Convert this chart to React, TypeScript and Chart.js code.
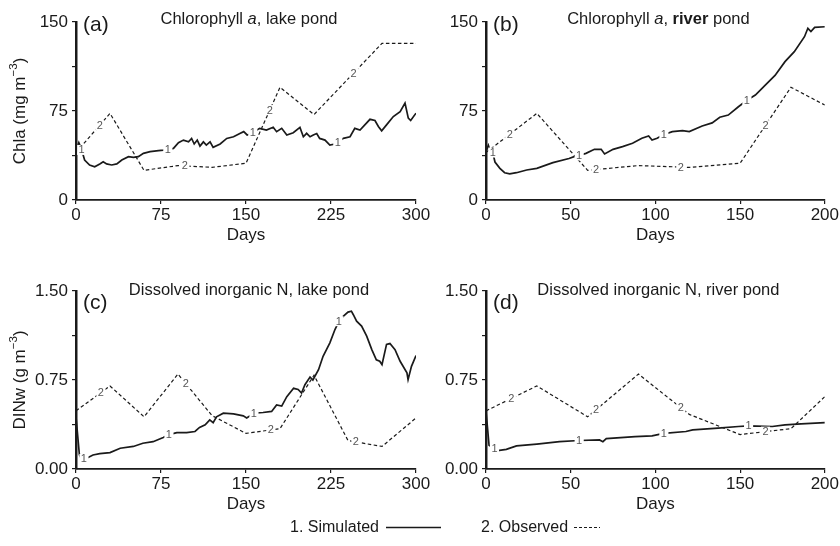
import React, { useEffect, useRef } from 'react';
import { Chart, registerables } from 'chart.js';

Chart.register(...registerables);

const FONT = "'Liberation Sans', Arial, Helvetica, sans-serif";
const INK = '#1a1a1a';

// ---------- data (day, value) ----------
const chlaLakeSim: [number, number][] = [
  [0, 40.7], [2.5, 48.3], [4.6, 43.5], [7.6, 33.7], [12, 29.5], [16.5, 28], [21, 30.4], [24, 32.3],
  [27, 30.4], [31.5, 29.5], [36, 30.4], [40.4, 33.7], [46.3, 36.5], [50.7, 36], [55, 36.5], [59.5, 39.3],
  [65.4, 40.7], [72.8, 41.6], [77.2, 42], [86, 43.5], [90.4, 48.3], [94.8, 50.5], [99.3, 49], [102, 51.9],
  [104.3, 47.2], [107, 50.5], [109.4, 45.4], [112.4, 49], [115, 46.3], [118.3, 49], [121, 44.4], [127.2, 47.2],
  [133, 51.9], [139, 53.3], [145, 56.2], [148, 57.6], [151, 54.8], [154, 55.6], [162, 60.4], [168, 59],
  [174, 61.3], [177, 57.6], [181.5, 60.4], [186, 54.8], [191.7, 56.7], [197.6, 61.2], [200.6, 53.3], [203.5, 56.2],
  [206.5, 53.3], [209.4, 54.8], [212.4, 56], [215, 51.9], [219.7, 50.5], [224, 46.3], [228.5, 47.2], [235.9, 51.9],
  [241.8, 53.3], [246, 60.4], [250.6, 59], [259.4, 68], [263.8, 67], [266.8, 62], [269.7, 58.3], [274, 63.3],
  [280, 70.3], [286, 74.5], [290.3, 81.6], [293.2, 69], [295.3, 67], [300, 73.2],
];
const chlaLakeObs: [number, number][] = [
  [0, 40], [30, 73], [60, 25], [90, 29], [120, 27.5], [150, 31], [180, 95], [210, 72], [240, 102], [270, 132], [300, 132],
];

const chlaRiverSim: [number, number][] = [
  [0, 40.7], [1.4, 46], [2.3, 42], [4, 40], [5.3, 32], [8.2, 26.7], [11, 23], [14, 22], [18, 23], [24, 25.3],
  [30, 26.7], [39.5, 31.5], [49, 35], [52, 36.5], [55, 37.5], [59, 39.3], [64, 42.7], [68, 42.7], [70, 38.8],
  [75, 42.7], [80.6, 45], [86.5, 47.8], [92, 52], [96, 54], [98, 50.5], [101, 52], [104.7, 55], [110, 57.6],
  [116, 58.4], [120, 57.6], [127.6, 62.4], [133.5, 65], [138, 69.7], [143, 71.6], [149, 78.6], [154, 84],
  [159, 88.5], [165, 97], [170.6, 105], [176.5, 116.6], [182, 125], [188, 137.6], [190, 144.7], [191.8, 142],
  [194, 145.5], [200, 146],
];
const chlaRiverObs: [number, number][] = [
  [0, 40], [30, 73], [60, 25], [90, 29], [120, 27.5], [150, 31], [180, 95], [200, 80],
];

const dinLakeSim: [number, number][] = [
  [0, 0.44], [1.6, 0.27], [3, 0.12], [5, 0.08], [9.4, 0.09], [15, 0.118], [21, 0.13], [30, 0.138], [39, 0.175],
  [50.6, 0.19], [59, 0.217], [68, 0.23], [77, 0.265], [82, 0.29], [89, 0.307], [97.6, 0.307], [105, 0.316],
  [109, 0.35], [114, 0.372], [118, 0.414], [121, 0.39], [124, 0.44], [130, 0.47], [139, 0.465], [147.6, 0.448],
  [150.6, 0.43], [157, 0.47], [165, 0.476], [172.6, 0.485], [177, 0.54], [181.5, 0.53], [186, 0.61], [192, 0.68],
  [196, 0.67], [199, 0.64], [202, 0.71], [206.5, 0.775], [209, 0.75], [214, 0.837], [218, 0.95], [224, 1.063],
  [228.5, 1.175], [232, 1.246], [236, 1.288], [240, 1.322], [243, 1.33], [244.7, 1.3], [247.6, 1.246], [252, 1.204],
  [256.5, 1.12], [261, 1.006], [265, 0.92], [268, 0.908], [270, 0.88], [274, 1.05], [277, 1.057], [281.5, 1.006],
  [286, 0.908], [292, 0.81], [293, 0.753], [296, 0.865], [300, 0.956],
];
const dinLakeObs: [number, number][] = [
  [0, 0.49], [30, 0.7], [60, 0.44], [90, 0.8], [120, 0.45], [150, 0.3], [180, 0.34], [210, 0.79], [240, 0.24], [270, 0.19], [300, 0.43],
];

const dinRiverSim: [number, number][] = [
  [0, 0.485], [1, 0.33], [1.8, 0.2], [4.7, 0.175], [7, 0.155], [12, 0.166], [18, 0.195], [30, 0.21], [43.4, 0.23],
  [55, 0.24], [67, 0.245], [69, 0.23], [71, 0.256], [88, 0.273], [98, 0.279], [105, 0.3], [118, 0.316], [122, 0.33],
  [137, 0.344], [149, 0.358], [155, 0.364], [169, 0.358], [176.5, 0.372], [186, 0.38], [200, 0.39],
];
const dinRiverObs: [number, number][] = [
  [0, 0.49], [30, 0.7], [60, 0.44], [90, 0.8], [120, 0.46], [150, 0.29], [180, 0.34], [200, 0.61],
];

// curve label positions (days)
const chlaLakeSimMarks = [5, 81, 156, 231];
const chlaLakeObsMarks = [21, 96, 171, 245];
const chlaRiverSimMarks = [4, 55, 105, 154];
const chlaRiverObsMarks = [14, 65, 115, 165];
const dinLakeSimMarks = [7, 82, 157, 232];
const dinLakeObsMarks = [22, 97, 172, 247];
const dinRiverSimMarks = [5, 55, 105, 155];
const dinRiverObsMarks = [15, 65, 115, 165];

// axis ranges / ticks
const daysLakeTicks = { max: 300, step: 75 };
const daysRiverTicks = { max: 200, step: 50 };
const chlaTicks = { max: 150, step: 37.5, label: 75, digits: 0 };
const dinTicks = { max: 1.5, step: 0.375, label: 0.75, digits: 2 };

type Seg = { text: string; style?: string };

const titleA: Seg[] = [{ text: 'Chlorophyll ' }, { text: 'a', style: 'italic' }, { text: ', lake pond' }];
const titleB: Seg[] = [{ text: 'Chlorophyll ' }, { text: 'a', style: 'italic' }, { text: ', ' }, { text: 'river', style: 'bold' }, { text: ' pond' }];
const titleC: Seg[] = [{ text: 'Dissolved inorganic N, lake pond' }];
const titleD: Seg[] = [{ text: 'Dissolved inorganic N, river pond' }];

const yTitleChla = ['Chla (mg m', '\u22123', ')'];
const yTitleDin = ['DINw (g m', '\u22123', ')'];

// ---------- plugins ----------
const panelText = {
  id: 'panelText',
  afterDraw(chart: any, _args: any, opts: any) {
    const { ctx, chartArea } = chart;
    ctx.save();
    ctx.fillStyle = INK;
    ctx.textBaseline = 'alphabetic';
    ctx.textAlign = 'left';
    const segs: Seg[] = opts.title || [];
    const fonts = segs.map((s) => `${s.style || ''} ${opts.titleSize}px ${FONT}`);
    let total = 0;
    segs.forEach((s, i) => {
      ctx.font = fonts[i];
      total += ctx.measureText(s.text).width;
    });
    let x = (chartArea.left + chartArea.right) / 2 + opts.titleDx - total / 2;
    const y = chartArea.top + opts.titleDy;
    segs.forEach((s, i) => {
      ctx.font = fonts[i];
      ctx.fillText(s.text, x, y);
      x += ctx.measureText(s.text).width;
    });
    ctx.font = `${opts.letterSize}px ${FONT}`;
    ctx.fillText(opts.letter, chartArea.left + opts.letterDx, chartArea.top + opts.letterDy);

    if (opts.yTitle) {
      const [main, sup, tail] = opts.yTitle as string[];
      const size = opts.yTitleSize;
      const fMain = `${size}px ${FONT}`;
      const fSup = `${size * 0.68}px ${FONT}`;
      ctx.font = fMain;
      const wMain = ctx.measureText(main).width;
      const wTail = ctx.measureText(tail).width;
      ctx.font = fSup;
      const wSup = ctx.measureText(sup).width;
      const tot = wMain + wSup + wTail;
      ctx.translate(opts.yTitleX, (chartArea.top + chartArea.bottom) / 2);
      ctx.rotate(-Math.PI / 2);
      const base = size * 0.36;
      let tx = -tot / 2;
      ctx.font = fMain;
      ctx.fillText(main, tx, base);
      tx += wMain;
      ctx.font = fSup;
      ctx.fillText(sup, tx, base - size * 0.42);
      tx += wSup;
      ctx.font = fMain;
      ctx.fillText(tail, tx, base);
    }
    ctx.restore();
  },
};

const seriesMarks = {
  id: 'seriesMarks',
  afterDatasetsDraw(chart: any) {
    const { ctx } = chart;
    const xs = chart.scales.x;
    const ys = chart.scales.y;
    ctx.save();
    chart.data.datasets.forEach((ds: any) => {
      const pts = ds.data as { x: number; y: number }[];
      (ds.markDays || []).forEach((d: number) => {
        let v = pts[0].y;
        for (let i = 1; i < pts.length; i++) {
          if (pts[i].x >= d) {
            const a = pts[i - 1];
            const b = pts[i];
            v = a.y + ((b.y - a.y) * (d - a.x)) / (b.x - a.x);
            break;
          }
        }
        const px = xs.getPixelForValue(d);
        const py = ys.getPixelForValue(v);
        ctx.font = `11px ${FONT}`;
        const w = ctx.measureText(ds.markText).width;
        ctx.fillStyle = '#ffffff';
        ctx.fillRect(px - w / 2 - 1.5, py - 5, w + 3, 10);
        ctx.fillStyle = '#555555';
        ctx.textAlign = 'center';
        ctx.textBaseline = 'middle';
        ctx.fillText(ds.markText, px, py + 0.5);
      });
    });
    ctx.restore();
  },
};

// ---------- config ----------
type Spec = {
  sim: [number, number][];
  obs: [number, number][];
  simMarks: number[];
  obsMarks: number[];
  xT: { max: number; step: number };
  yT: { max: number; step: number; label: number; digits: number };
  title: Seg[];
  letter: string;
  yTitle?: string[];
  yAxisWidth: number;
  padRight: number;
  titleDy: number;
  letterDy: number;
};

const toPts = (a: [number, number][]) => a.map(([x, y]) => ({ x, y }));

function makeConfig(p: Spec): any {
  const tickFont = { family: FONT, size: 17 };
  return {
    type: 'line',
    data: {
      datasets: [
        {
          data: toPts(p.sim), borderColor: INK, borderWidth: 1.7, pointRadius: 0, tension: 0,
          markDays: p.simMarks, markText: '1',
        },
        {
          data: toPts(p.obs), borderColor: INK, borderWidth: 1.2, borderDash: [3.5, 2.5], pointRadius: 0, tension: 0,
          markDays: p.obsMarks, markText: '2',
        },
      ],
    },
    options: {
      responsive: false,
      animation: false,
      events: [],
      layout: { padding: { top: 22, right: p.padRight, left: 0, bottom: 0 } },
      plugins: {
        legend: { display: false },
        tooltip: { enabled: false },
        panelText: {
          title: p.title, titleSize: 16.5, titleDx: 3, titleDy: p.titleDy,
          letter: p.letter, letterSize: 21, letterDx: 7, letterDy: p.letterDy,
          yTitle: p.yTitle, yTitleSize: 17, yTitleX: 18.5,
        },
      },
      scales: {
        x: {
          type: 'linear', min: 0, max: p.xT.max,
          ticks: { stepSize: p.xT.step, font: tickFont, color: INK, maxRotation: 0, autoSkip: false, padding: 1 },
          grid: { drawOnChartArea: false, tickLength: 4, color: INK, lineWidth: 1.2 },
          border: { color: INK, width: 1.8 },
          title: { display: true, text: 'Days', font: { family: FONT, size: 17 }, color: INK, padding: { top: 0, bottom: 4 } },
          afterFit: (s: any) => { s.height = 50; },
        },
        y: {
          type: 'linear', min: 0, max: p.yT.max,
          ticks: {
            stepSize: p.yT.step, font: tickFont, color: INK, padding: 4,
            callback: (v: number) => {
              const r = v / p.yT.label;
              return Math.abs(r - Math.round(r)) < 1e-6 ? v.toFixed(p.yT.digits) : '';
            },
          },
          grid: { drawOnChartArea: false, tickLength: 4, color: INK, lineWidth: 1.2 },
          border: { color: INK, width: 2.5 },
          afterFit: (s: any) => { s.width = p.yAxisWidth; },
        },
      },
    },
    plugins: [panelText, seriesMarks],
  };
}

const specs: { spec: Spec; left: number; top: number; width: number; height: number }[] = [
  {
    left: 0, top: 0, width: 440, height: 250,
    spec: { sim: chlaLakeSim, obs: chlaLakeObs, simMarks: chlaLakeSimMarks, obsMarks: chlaLakeObsMarks, xT: daysLakeTicks, yT: chlaTicks, title: titleA, letter: '(a)', yTitle: yTitleChla, yAxisWidth: 76, padRight: 24, titleDy: 2, letterDy: 9 },
  },
  {
    left: 420, top: 0, width: 420, height: 250,
    spec: { sim: chlaRiverSim, obs: chlaRiverObs, simMarks: chlaRiverSimMarks, obsMarks: chlaRiverObsMarks, xT: daysRiverTicks, yT: chlaTicks, title: titleB, letter: '(b)', yAxisWidth: 66, padRight: 13, titleDy: 2, letterDy: 9 },
  },
  {
    left: 0, top: 269, width: 440, height: 250,
    spec: { sim: dinLakeSim, obs: dinLakeObs, simMarks: dinLakeSimMarks, obsMarks: dinLakeObsMarks, xT: daysLakeTicks, yT: dinTicks, title: titleC, letter: '(c)', yTitle: yTitleDin, yAxisWidth: 76, padRight: 24, titleDy: 4, letterDy: 18 },
  },
  {
    left: 420, top: 269, width: 420, height: 250,
    spec: { sim: dinRiverSim, obs: dinRiverObs, simMarks: dinRiverSimMarks, obsMarks: dinRiverObsMarks, xT: daysRiverTicks, yT: dinTicks, title: titleD, letter: '(d)', yAxisWidth: 66, padRight: 13, titleDy: 4, letterDy: 18 },
  },
];

function Panel(props: { spec: Spec; left: number; top: number; width: number; height: number }) {
  const ref = useRef<HTMLCanvasElement>(null);
  useEffect(() => {
    const chart = new Chart(ref.current as HTMLCanvasElement, makeConfig(props.spec));
    return () => chart.destroy();
  }, []);
  return (
    <canvas
      ref={ref}
      width={props.width}
      height={props.height}
      style={{ position: 'absolute', left: props.left, top: props.top, width: props.width, height: props.height }}
    />
  );
}

export default function App() {
  const legendText: React.CSSProperties = {
    position: 'absolute', top: 517, height: 20, lineHeight: '20px', fontFamily: FONT, fontSize: 16, color: INK, whiteSpace: 'nowrap',
  };
  return (
    <div style={{ position: 'absolute', left: 0, top: 0, width: 840, height: 546, background: '#fff', overflow: 'hidden' }}>
      {specs.map((s, i) => (
        <Panel key={i} {...s} />
      ))}
      <div style={{ ...legendText, left: 290 }}>1. Simulated</div>
      <svg style={{ position: 'absolute', left: 386, top: 517 }} width={56} height={20}>
        <line x1={0} y1={10.5} x2={55} y2={10.5} stroke={INK} strokeWidth={1.3} />
      </svg>
      <div style={{ ...legendText, left: 481 }}>2. Observed</div>
      <svg style={{ position: 'absolute', left: 574, top: 517 }} width={28} height={20}>
        <line x1={0} y1={10.5} x2={26} y2={10.5} stroke={INK} strokeWidth={1.1} strokeDasharray="3 2" />
      </svg>
    </div>
  );
}
